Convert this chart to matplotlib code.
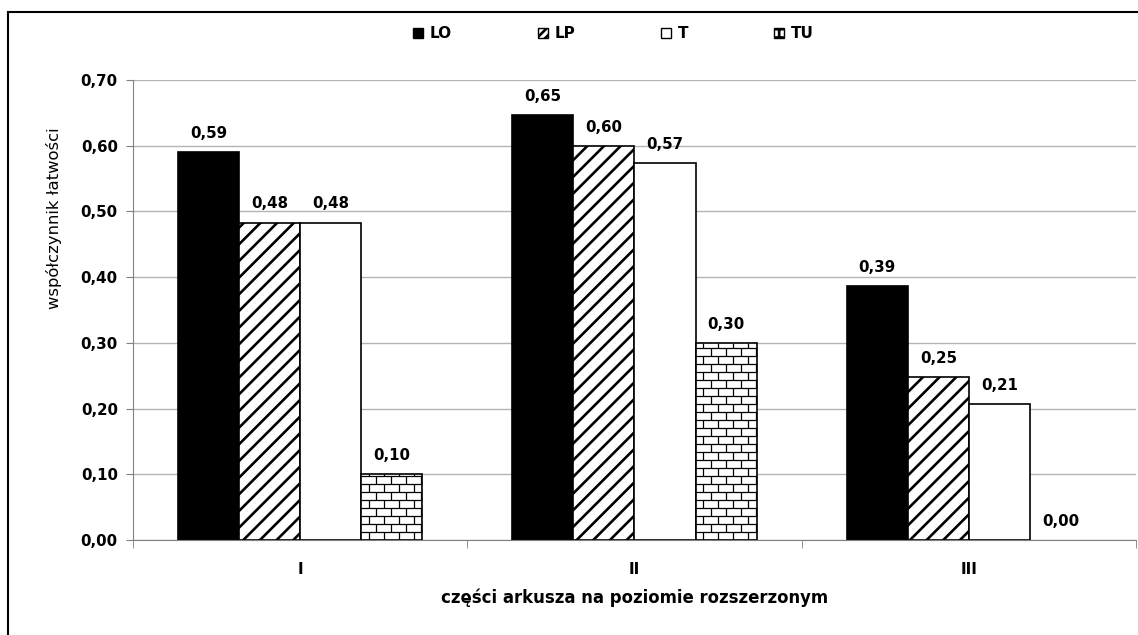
import matplotlib.pyplot as plt
from matplotlib.patches import Rectangle, Patch
import numpy as np

categories = ['I', 'II', 'III']
series = ['LO', 'LP', 'T', 'TU']
values_LO = [0.59, 0.647, 0.386]
values_LP = [0.483, 0.60, 0.248]
values_T = [0.483, 0.573, 0.207]
values_TU = [0.101, 0.30, 0.0]
yticks = [0.0, 0.1, 0.2, 0.3, 0.4, 0.5, 0.6, 0.7]

plt.rcParams['hatch.linewidth'] = 1.9

fig = plt.figure(figsize=(11.38, 6.35), dpi=100)
ax = fig.add_axes([0.1169, 0.1496, 0.8813, 0.7244])

x = np.arange(len(categories))
w = 0.1826
all_vals = [values_LO, values_LP, values_T, values_TU]
styles = [
    dict(color='black', edgecolor='black'),
    dict(color='white', edgecolor='black', hatch='//'),
    dict(color='white', edgecolor='black'),
    dict(color='white', edgecolor='black'),
]
bar_sets = []
for i, (vals, st) in enumerate(zip(all_vals, styles)):
    bars = ax.bar(x + (i - 1.5) * w, vals, w, linewidth=1.2, zorder=3, **st)
    for b in bars:
        if b.get_height() <= 0:
            b.set_linewidth(0)
    bar_sets.append(bars)

# brick pattern for TU
dy = 0.0122
bw = 0.045
for b in bar_sets[3]:
    x0, x1, h = b.get_x(), b.get_x() + b.get_width(), b.get_height()
    if h <= 0:
        continue
    ys = np.arange(0, h, dy)
    ax.hlines(ys, x0, x1, color='black', lw=0.9, zorder=4)
    for k, y0 in enumerate(ys):
        y1 = min(y0 + dy, h)
        off = 0 if k % 2 == 0 else bw / 2
        xs = np.arange(x0 + off + bw / 2, x1, bw)
        ax.vlines(xs, y0, y1, color='black', lw=0.9, zorder=4)

# value labels
for bars, vals in zip(bar_sets, all_vals):
    for b, v in zip(bars, vals):
        ax.annotate(f"{v:.2f}".replace('.', ','), (b.get_x() + b.get_width() / 2, v),
                    xytext=(0, 8), textcoords='offset points', ha='center', va='bottom',
                    fontsize=10.8, fontweight='bold', family='DejaVu Sans', zorder=5)

ax.set_ylim(0, 0.7)
ax.set_xlim(-0.5, 2.5)
ax.set_yticks(yticks)
ax.set_yticklabels([f"{t:.2f}".replace('.', ',') for t in yticks],
                   fontsize=10.8, fontweight='bold', family='DejaVu Sans')
ax.set_xticks(x)
ax.set_xticklabels(categories, fontsize=10.8, fontweight='bold', family='DejaVu Sans')
ax.set_xticks([-0.5, 0.5, 1.5, 2.5], minor=True)
ax.tick_params(axis='x', which='major', length=0, pad=16)
ax.tick_params(axis='x', which='minor', length=6, color='#808080', direction='out')
ax.tick_params(axis='y', length=5, color='#808080', pad=6)
ax.grid(axis='y', color='#b4b4b4', lw=1, zorder=0)
for s in ['top', 'right']:
    ax.spines[s].set_visible(False)
ax.spines['left'].set_color('#808080')
ax.spines['bottom'].set_color('#808080')
ax.spines['bottom'].set_zorder(6)

ax.set_ylabel('współczynnik łatwości', fontsize=11.8, family='DejaVu Sans')
ax.yaxis.set_label_coords(-0.071, 0.70)
ax.set_xlabel('części arkusza na poziomie rozszerzonym', fontsize=11.9,
              fontweight='bold', family='DejaVu Sans', labelpad=8)

handles = [Patch(facecolor='black', edgecolor='black'),
           Patch(facecolor='white', edgecolor='black', hatch='////'),
           Patch(facecolor='white', edgecolor='black'),
           Patch(facecolor='white', edgecolor='black', hatch='++')]
fig.legend(handles, series, loc='center', bbox_to_anchor=(0.539, 0.947), ncol=4,
           frameon=False, handlelength=0.65, handleheight=0.65, handletextpad=0.45,
           columnspacing=5.6, prop=dict(family='DejaVu Sans', weight='bold', size=11))

fig.patches.append(Rectangle((0.007, -0.1), 1.2, 1.081, transform=fig.transFigure,
                             fill=False, edgecolor='black', lw=1.5))

fig.savefig('out.png', dpi=100)
